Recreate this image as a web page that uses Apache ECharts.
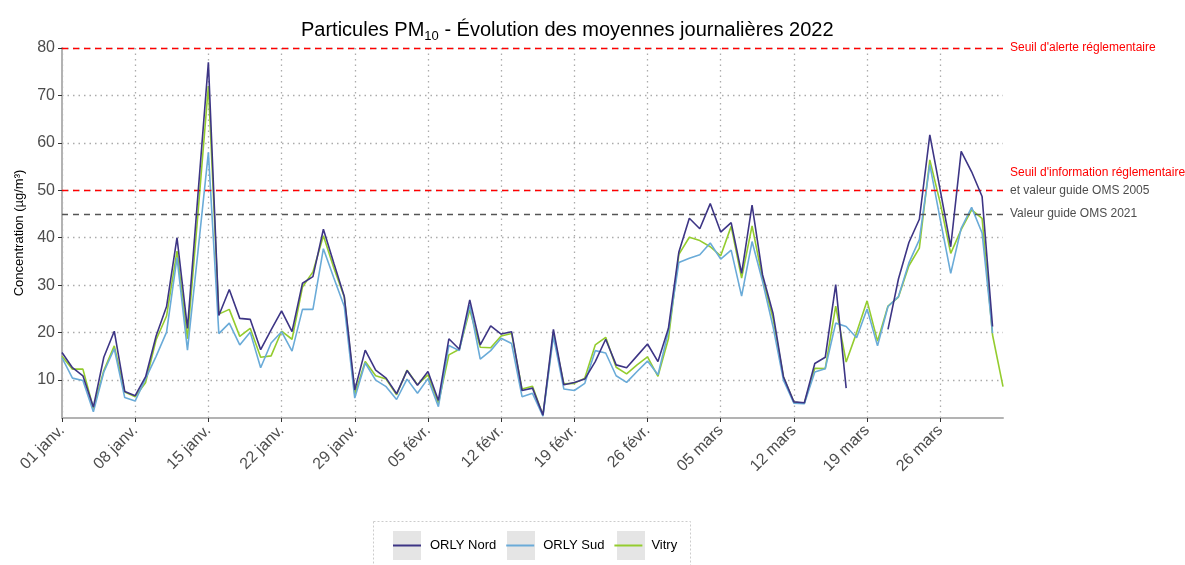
<!DOCTYPE html>
<html>
<head>
<meta charset="utf-8">
<script src="https://cdn.jsdelivr.net/npm/echarts@6/dist/echarts.min.js"></script>
<style>
html,body{margin:0;padding:0;background:#fff;}
#chart{width:1185px;height:565px;}
</style>
</head>
<body>
<div id="chart"></div>
<script>
// Month names and lengths used to build the daily categories (01 janv. -> 01 avr.)
const monthNames = ['janv.', 'févr.', 'mars', 'avr.'];
const monthDays = [31, 28, 31, 1];
const categories = [];
monthNames.forEach(function (m, i) {
  for (let d = 1; d <= monthDays[i]; d++) {
    categories.push((d < 10 ? '0' : '') + d + ' ' + m);
  }
});

const yTicks = [10, 20, 30, 40, 50, 60, 70, 80];

const orlyNord = [15.8, 12.6, 10.9, 4.3, 14.8, 20.3, 7.6, 6.7, 10.7, 19.3,
  25.5, 40.0, 20.9, 49, 77.0, 23.6, 29.1, 23.0, 22.8, 16.4,
  20.6, 24.6, 20.2, 30.4, 31.8, 41.8, 34.6, 27.6, 7.9, 16.3,
  12.1, 10.4, 7.1, 12.0, 8.9, 11.8, 5.7, 18.7, 16.5, 26.9,
  17.4, 21.4, 19.7, 20.2, 7.8, 8.3, 2.6, 20.7, 9.0, 9.5,
  10.2, 13.9, 18.6, 13.2, 12.6, 15.1, 17.6, 13.9, 20.9, 37.0,
  44.1, 41.9, 47.2, 41.2, 43.2, 32.5, 46.9, 32.2, 24.1, 10.7,
  5.4, 5.2, 13.5, 14.8, 30.1, 8.3, null, null, null, 20.7,
  31.3, 39.0, 43.9, 61.7, 50.0, 38.1, 58.2, 53.9, 48.7, 21.3,
  null];

const orlySud = [14.7, 10.4, 9.9, 3.3, 11.7, 16.6, 6.3, 5.6, 10.3, 15.0,
  20.1, 35.8, 16.3, 37, 58.0, 19.8, 22.0, 17.4, 20.1, 12.6,
  17.8, 20.2, 16.1, 24.9, 24.9, 37.7, 31.5, 25.5, 6.2, 13.6,
  10.0, 8.6, 5.9, 10.2, 7.2, 10.3, 4.4, 17.3, 16.2, 25.8,
  14.4, 16.2, 18.8, 17.7, 6.5, 7.2, 2.4, 19.2, 8.1, 7.8,
  9.3, 16.2, 15.7, 10.9, 9.5, 11.8, 14.0, 11.1, 20.3, 34.8,
  35.7, 36.4, 38.9, 35.5, 37.4, 27.7, 39.2, 30.8, 21.3, 10.0,
  5.1, 5.0, 11.7, 12.4, 22.0, 21.3, 18.9, 25.0, 17.2, 25.5,
  27.6, 34.7, 39.6, 55.4, 43.8, 32.5, 42.0, 46.4, 41.0, 19.9,
  null];

const vitry = [15.0, 12.3, 12.3, 4.0, 12.0, 17.2, 7.5, 6.5, 9.5, 18.5,
  23.5, 37.2, 18.7, 45, 72.0, 23.9, 24.9, 19.2, 20.9, 14.8,
  15.1, 20.3, 18.6, 29.6, 32.8, 40.4, 33.6, 27.5, 7.0, 13.9,
  10.9, 10.2, 6.9, 12.1, 9.0, 11.1, 5.1, 15.3, 16.5, 24.8,
  16.9, 16.8, 19.3, 19.8, 8.1, 8.7, 2.6, 19.8, 9.2, 9.3,
  10.4, 17.4, 19.0, 12.7, 11.3, 13.2, 14.9, 10.8, 18.7, 36.5,
  40.1, 39.4, 38.1, 36.2, 42.4, 31.5, 42.5, 31.5, 23.0, 10.7,
  5.3, 5.1, 12.5, 12.4, 25.6, 13.8, 20.0, 26.7, 18.2, 25.6,
  27.5, 34.1, 37.8, 56.4, 47.3, 36.7, 41.7, 45.9, 44.1, 19.5,
  8.6];

const seriesNames = ['ORLY Nord', 'ORLY Sud', 'Vitry'];
const seriesColors = ['#3d3585', '#6aabd8', '#94cc2e'];

const chart = echarts.init(document.getElementById('chart'), null, {renderer: 'canvas'});

const labelFont = 'Liberation Sans, Arial, sans-serif';

function lineSeries(name, data, color, z) {
  return {
    name: name, type: 'line', data: data, color: color,
    showSymbol: false, symbol: 'none', z: z,
    lineStyle: {color: color, width: 1.6},
    connectNulls: false, animation: false
  };
}

const nordSeries = lineSeries(seriesNames[0], orlyNord, seriesColors[0], 5);
nordSeries.markLine = {
  silent: true, symbol: 'none', animation: false,
  data: [
    {yAxis: 80, lineStyle: {color: '#ff0000', type: [6, 5], width: 1.4},
     label: {formatter: "Seuil d'alerte réglementaire", color: '#ff0000'}},
    {yAxis: 50, lineStyle: {color: '#ff0000', type: [6, 5], width: 1.4},
     label: {formatter: "{r|Seuil d'information réglementaire}\n{g|et valeur guide OMS 2005}\n{g| }",
       rich: {r: {color: '#ff0000', fontSize: 12, lineHeight: 18, fontFamily: labelFont},
              g: {color: '#4d4d4d', fontSize: 12, lineHeight: 18, fontFamily: labelFont}}}},
    {yAxis: 45, lineStyle: {color: '#555555', type: [6, 5], width: 1.4},
     label: {formatter: 'Valeur guide OMS 2021', color: '#4d4d4d'}}
  ],
  label: {position: 'end', distance: 7, fontSize: 12, fontFamily: labelFont}
};

chart.setOption({
  animation: false,
  backgroundColor: '#ffffff',
  title: {
    text: '{t|Particules PM}{s|10}{t| - Évolution des moyennes journalières 2022}',
    left: 296, top: 9,
    textStyle: {
      fontWeight: 'normal',
      rich: {
        t: {fontSize: 20, fontWeight: 'normal', color: '#000', fontFamily: labelFont, lineHeight: 26, verticalAlign: 'bottom'},
        s: {fontSize: 13, fontWeight: 'normal', color: '#000', fontFamily: labelFont, lineHeight: 26, verticalAlign: 'bottom', padding: [0, 0, -3, 0]}
      }
    }
  },
  grid: {left: 62, right: 182, top: 48, bottom: 147, containLabel: false},
  legend: {
    data: seriesNames,
    left: 393, top: 539, padding: 0,
    icon: 'rect', itemWidth: 28, itemHeight: 2, itemGap: 10,
    textStyle: {fontSize: 13, color: '#000', fontFamily: labelFont, padding: [0, 0, 0, 4]}
  },
  graphic: [
    {type: 'rect', z: -1, shape: {x: 373.5, y: 521.5, width: 317, height: 60},
     style: {fill: 'none', stroke: '#cccccc', lineWidth: 1, lineDash: [2, 2]}},
    {type: 'rect', z: -1, shape: {x: 393, y: 531, width: 28, height: 29}, style: {fill: '#e5e5e5'}},
    {type: 'rect', z: -1, shape: {x: 507, y: 531, width: 28, height: 29}, style: {fill: '#e5e5e5'}},
    {type: 'rect', z: -1, shape: {x: 617, y: 531, width: 28, height: 29}, style: {fill: '#e5e5e5'}}
  ],
  xAxis: {
    type: 'category', data: categories, boundaryGap: false,
    axisLine: {show: true, lineStyle: {color: '#b3b3b3', width: 2}},
    axisTick: {show: true, interval: 6, length: 4, lineStyle: {color: '#333333', width: 1}},
    axisLabel: {interval: 6, rotate: 45, fontSize: 16, color: '#4d4d4d', fontFamily: labelFont, margin: 10},
    splitLine: {show: true, interval: 6, lineStyle: {color: '#ababab', type: [1.5, 4], width: 1.3}}
  },
  yAxis: {
    type: 'value', min: 2, max: 80,
    name: 'Concentration (µg/m³)', nameLocation: 'middle', nameGap: 34,
    nameTextStyle: {fontSize: 13, color: '#000', fontFamily: labelFont},
    axisLine: {show: true, lineStyle: {color: '#b3b3b3', width: 2}},
    axisTick: {show: true, length: 4, customValues: yTicks, lineStyle: {color: '#333333', width: 1}},
    axisLabel: {customValues: yTicks, fontSize: 16, color: '#4d4d4d', fontFamily: labelFont, margin: 7},
    splitLine: {show: true, lineStyle: {color: '#ababab', type: [1.5, 4], width: 1.3}}
  },
  series: [
    nordSeries,
    lineSeries(seriesNames[1], orlySud, seriesColors[1], 4),
    lineSeries(seriesNames[2], vitry, seriesColors[2], 3)
  ]
});
</script>
</body>
</html>
